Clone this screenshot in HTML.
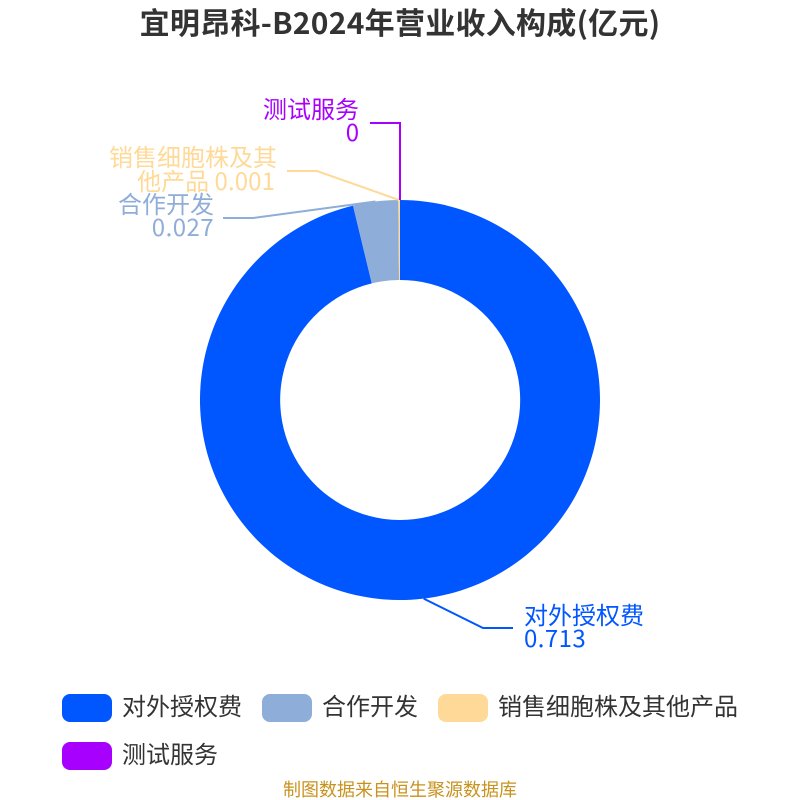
<!DOCTYPE html>
<html><head><meta charset="utf-8"><style>html,body{margin:0;padding:0;background:#fff}svg{display:block}text{font-family:"Noto Sans CJK SC",sans-serif}.n{letter-spacing:.45px}</style></head><body>
<svg width="800" height="800" viewBox="0 0 800 800" xmlns="http://www.w3.org/2000/svg">
<rect width="800" height="800" fill="#fff"/>
<text x="400" y="34" text-anchor="middle" font-size="30" font-weight="bold" fill="#333" letter-spacing=".27">宜明昂科-B2024年营业收入构成(亿元)</text>
<path d="M400 200A200 200 0 1 1 353 205.6L371.8 283.4A120 120 0 1 0 400 280Z" fill="#0056ff"/>
<path d="M353 205.6A200 200 0 0 1 398.3 200L399 280A120 120 0 0 0 371.8 283.4Z" fill="#8fadd9"/>
<path d="M398.3 200A200 200 0 0 1 400 200L400 280A120 120 0 0 0 399 280Z" fill="#ffd997"/>
<g fill="none" stroke-width="2">
<path d="M423.7 598.6L483 628H513" stroke="#0056ff"/>
<path d="M375.5 201.5L253 218H223" stroke="#8fadd9"/>
<path d="M399 200L317 171H287" stroke="#ffd997"/>
<path d="M400 200V123H370" stroke="#a800ff"/>
</g>
<g font-size="24">
<text x="524" y="624" fill="#0056ff">对外授权费</text>
<text x="524" y="647" fill="#0056ff" class="n">0.713</text>
<text x="214" y="213" text-anchor="end" fill="#8fadd9">合作开发</text>
<text x="214" y="236" text-anchor="end" fill="#8fadd9" class="n">0.027</text>
<text x="277" y="166" text-anchor="end" fill="#ffd997">销售细胞株及其</text>
<text x="275" y="190" text-anchor="end" fill="#ffd997">他产品 <tspan letter-spacing=".1">0.001</tspan></text>
<text x="359" y="118" text-anchor="end" fill="#a800ff">测试服务</text>
<text x="359.5" y="141" text-anchor="end" fill="#a800ff" class="n">0</text>
</g>
<rect x="62" y="694" width="50" height="28" rx="8" fill="#0056ff"/>
<rect x="262" y="694" width="50" height="28" rx="8" fill="#8fadd9"/>
<rect x="438" y="694" width="50" height="28" rx="8" fill="#ffd997"/>
<rect x="62" y="742" width="50" height="28" rx="8" fill="#a800ff"/>
<g font-size="24" fill="#333">
<text x="122" y="715">对外授权费</text>
<text x="322" y="715">合作开发</text>
<text x="498" y="715">销售细胞株及其他产品</text>
<text x="122" y="763">测试服务</text>
</g>
<text x="400" y="796" text-anchor="middle" font-size="18" fill="#c8921e">制图数据来自恒生聚源数据库</text>
</svg>
</body></html>
